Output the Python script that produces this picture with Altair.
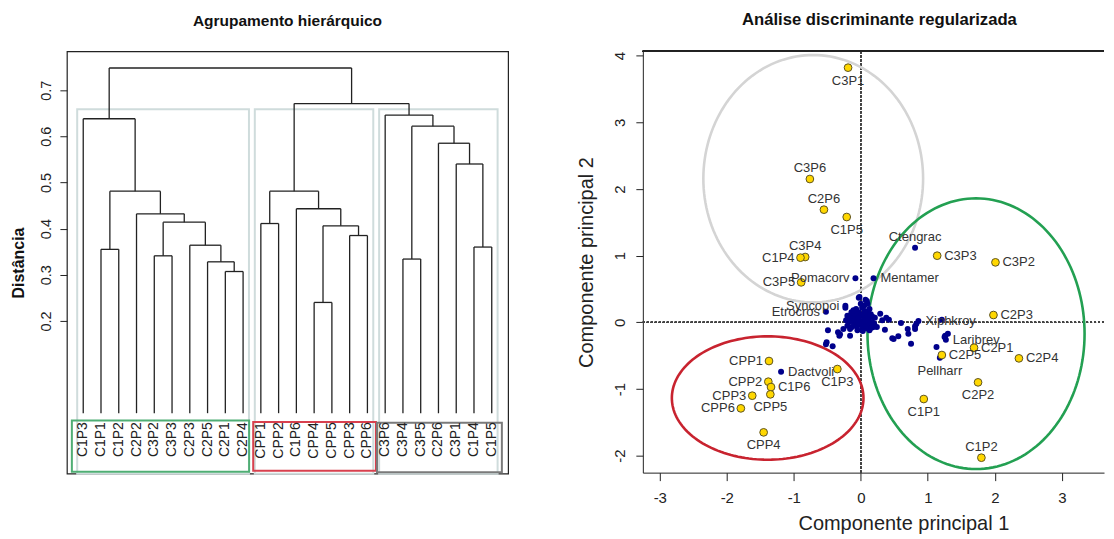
import altair as alt
import pandas as pd
import numpy as np

FONT = "Liberation Sans"
INK = "#222222"

# ---------------- Dendrogram (left) ----------------
leaf_order = ["C1P3", "C1P1", "C1P2", "C2P2", "C3P2", "C3P3", "C2P3", "C2P5", "C2P1", "C2P4",
              "CPP1", "CPP2", "C1P6", "CPP4", "CPP5", "CPP3", "CPP6",
              "C3P6", "C3P4", "C3P5", "C2P6", "C3P1", "C1P4", "C1P5"]
merge_left = ["C2P1", "C2P5", "C2P3", "C3P2", "m4", "C2P2", "C1P1", "m7", "C1P3",
              "CPP4", "CPP3", "m10", "C1P6", "CPP1", "m14",
              "C1P4", "C3P1", "C2P6", "C3P4", "m19", "C3P6", "m15", "m9"]
merge_right = ["C2P4", "m1", "m2", "C3P3", "m3", "m5", "C1P2", "m6", "m8",
               "CPP5", "CPP6", "m11", "m12", "CPP2", "m13",
               "C1P5", "m16", "m17", "C3P5", "m18", "m20", "m21", "m22"]
merge_height = [0.307, 0.328, 0.364, 0.341, 0.414, 0.432, 0.355, 0.481, 0.638,
                0.240, 0.385, 0.406, 0.443, 0.411, 0.481,
                0.360, 0.540, 0.585, 0.334, 0.622, 0.646, 0.671, 0.748]
cluster_sizes = [10, 7, 7]
label_box_x1 = [0.36, 10.57, 17.54]
label_box_x2 = [10.34, 17.48, 24.57]
label_box_y1 = [-0.016, -0.019, -0.021]
label_box_y2 = [-0.127, -0.125, -0.128]
label_box_color = ["#4fae74", "#d8404e", "#7a7a7a"]
dist_ticks = [0.2, 0.3, 0.4, 0.5, 0.6, 0.7]
DEN_X = [0.08, 24.92]
DEN_Y = [-0.131, 0.784]

# ---------------- RDA biplot (right) ----------------
site_names = ["C3P1", "C3P6", "C2P6", "C1P5", "C3P4", "C1P4", "C3P5", "C3P3", "C3P2",
              "C2P3", "C2P1", "C2P5", "C2P4", "C2P2", "C1P1", "C1P2",
              "CPP1", "CPP2", "C1P6", "CPP3", "CPP5", "CPP6", "CPP4", "C1P3"]
site_x = [-0.19, -0.76, -0.55, -0.21, -0.83, -0.90, -0.89, 1.14, 2.01,
          1.98, 1.69, 1.21, 2.36, 1.75, 0.94, 1.80,
          -1.37, -1.38, -1.34, -1.62, -1.35, -1.79, -1.45, -0.35]
site_y = [3.82, 2.15, 1.69, 1.58, 0.98, 0.97, 0.60, 1.00, 0.90,
          0.11, -0.38, -0.49, -0.54, -0.90, -1.15, -2.03,
          -0.58, -0.89, -0.97, -1.10, -1.08, -1.29, -1.65, -0.70]
site_pos = ["below", "above", "above", "below", "above", "left", "left", "right", "right",
            "right", "right", "right", "right", "below", "below", "above",
            "left", "left", "right", "left", "below", "left", "below", "below"]

sp_names = ["Ctengrac", "Pomacorv", "Mentamer", "Xiphkroy", "Laribrev", "Pellharr",
            "Dactvoli", "Syncopoi", "Etrocros"]
sp_x = [0.81, -0.08, 0.19, 0.86, 1.27, 1.18, -1.19, -0.23, -0.52]
sp_y = [1.12, 0.66, 0.66, 0.02, -0.26, -0.53, -0.74, 0.25, 0.16]
sp_pos = ["above", "left", "right", "right", "right", "below", "right", "left", "left"]

other_x = [-0.02, 0.07, 0.10, -0.03, 0.09, -0.23, -0.03, 0.11,
           -0.12, -0.08, -0.05, 0.00, 0.03, 0.06, 0.09, 0.12, -0.10, -0.06, -0.02, 0.02,
           0.05, 0.14, -0.15, 0.00, 0.04, -0.09, 0.08, -0.03, 0.10, 0.15, -0.13, 0.17,
           -0.20, -0.18, -0.20, -0.14, -0.07, 0.02, 0.13, 0.18, 0.20, 0.13, 0.03, -0.05,
           -0.16, -0.22, 0.06, -0.11, 0.16, 0.11, -0.04, 0.07, -0.17, 0.00, 0.05,
           0.29, 0.32, 0.38, 0.42, 0.21, 0.19, 0.24, 0.36,
           0.60, 0.71, 0.70, 0.49, 0.56, 0.47, 0.75,
           0.83, 0.81, 0.81, 1.21, 1.26, 1.30, 1.25, 1.13,
           -0.49, -0.34, -0.31, -0.32, -0.51, -0.52, -0.42, -0.16, -0.26]
other_y = [0.38, 0.34, 0.28, 0.37, 0.32, 0.22, 0.15, 0.15,
           0.08, 0.12, 0.05, 0.10, 0.02, 0.08, -0.02, 0.05, -0.02, -0.06, -0.03, -0.08,
           -0.05, -0.04, 0.02, 0.00, 0.12, 0.04, -0.09, 0.06, 0.10, 0.12, -0.07, 0.00,
           0.10, 0.00, -0.05, 0.15, 0.20, 0.22, 0.20, 0.08, -0.02, -0.12, -0.13, -0.12,
           -0.10, 0.03, 0.17, 0.18, -0.08, 0.00, 0.00, 0.03, 0.07, 0.28, 0.25,
           0.13, 0.03, 0.07, 0.04, 0.07, -0.07, -0.07, -0.11,
           -0.01, -0.17, -0.10, -0.25, -0.21, -0.24, -0.32,
           -0.02, -0.06, -0.10, 0.04, -0.20, -0.17, -0.22, -0.37,
           -0.12, -0.15, -0.18, -0.20, -0.30, -0.33, -0.36, -0.20, -0.10]

ell_names = ["g1", "g2", "g3"]
ell_cx = [-0.71, 1.72, -1.39]
ell_cy = [2.155, -0.17, -1.135]
ell_rx = [1.64, 1.62, 1.43]
ell_ry = [1.855, 2.03, 0.925]
ell_color = ["#d4d4d4", "#23a052", "#c8232f"]

RDA_X = [-3.253, 3.63]
RDA_Y = [-2.254, 4.064]
x_ticks = [-3, -2, -1, 0, 1, 2, 3]
y_ticks = [-2, -1, 0, 1, 2, 3, 4]

# ---------------- build dendrogram tables ----------------
pos = {name: (i + 1.0, 0.0) for i, name in enumerate(leaf_order)}
segs = []
for i, (l, r, h) in enumerate(zip(merge_left, merge_right, merge_height)):
    xl, hl = pos[l]
    xr, hr = pos[r]
    segs.append(dict(x=xl, x2=xl, y=hl, y2=h))
    segs.append(dict(x=xl, x2=xr, y=h, y2=h))
    segs.append(dict(x=xr, x2=xr, y=hr, y2=h))
    pos["m%d" % (i + 1)] = ((xl + xr) / 2.0, h)
seg_df = pd.DataFrame(segs)

hs = sorted(merge_height)
k = len(cluster_sizes)
cut_h = (hs[-k] + hs[-k + 1]) / 2.0
bounds = np.concatenate([[0], np.cumsum(cluster_sizes)])
crect_df = pd.DataFrame({
    "x": bounds[:-1] + 0.66, "x2": bounds[1:] + 0.33,
    "y": [DEN_Y[0]] * k, "y2": [cut_h] * k})

lbox_df = pd.DataFrame({"x": label_box_x1, "x2": label_box_x2,
                        "y": label_box_y1, "y2": label_box_y2,
                        "c": ["a", "b", "c"]})
leaf_df = pd.DataFrame({"name": leaf_order,
                        "x": np.arange(1, len(leaf_order) + 1),
                        "y": [0.0] * len(leaf_order)})

den_yaxis = alt.Axis(values=dist_ticks, format=".1f", title="Distância", domain=False,
                     tickSize=7, tickColor=INK, tickWidth=1, grid=False,
                     labelAngle=270, labelAlign="center", labelBaseline="bottom",
                     labelPadding=6, labelFontSize=14.5, labelColor=INK,
                     titleFontSize=16, titleFontWeight="bold", titleColor="#111",
                     titlePadding=12)


def dx_(f="x"):
    return alt.X(f + ":Q", scale=alt.Scale(domain=DEN_X, nice=False, zero=False), axis=None)


def dy_(f="y"):
    return alt.Y(f + ":Q", scale=alt.Scale(domain=DEN_Y, nice=False, zero=False), axis=den_yaxis)


crect = alt.Chart(crect_df).mark_rect(fillOpacity=0, stroke="#cfdcdc", strokeWidth=2).encode(
    x=dx_(), x2="x2", y=dy_(), y2="y2")
dend = alt.Chart(seg_df).mark_rule(color=INK, strokeWidth=1.3).encode(
    x=dx_(), x2="x2", y=dy_(), y2="y2")
lbox = alt.Chart(lbox_df).mark_rect(fillOpacity=0, strokeWidth=2).encode(
    x=dx_(), x2="x2", y=dy_(), y2="y2",
    stroke=alt.Stroke("c:N", scale=alt.Scale(domain=["a", "b", "c"], range=label_box_color), legend=None))
leaf_txt = alt.Chart(leaf_df).mark_text(angle=270, align="right", baseline="middle", dx=-9,
                                         fontSize=14, color=INK, font=FONT).encode(
    x=dx_(), y=dy_(), text="name:N")

left = alt.layer(crect, dend, lbox, leaf_txt).properties(
    width=442, height=423,
    title=alt.TitleParams("Agrupamento hierárquico", fontSize=15.5, fontWeight="bold",
                          color="#111", offset=22, font=FONT),
    view=alt.ViewBackground(stroke=INK, strokeWidth=1.2))

# ---------------- build biplot tables ----------------
ell_rows = []
tt = np.linspace(0, 2 * np.pi, 161)
for n, cx, cy, rx, ry in zip(ell_names, ell_cx, ell_cy, ell_rx, ell_ry):
    for i, t in enumerate(tt):
        ell_rows.append(dict(e=n, i=i, x=cx + rx * np.cos(t), y=cy + ry * np.sin(t)))
ell_df = pd.DataFrame(ell_rows)

site_df = pd.DataFrame({"name": site_names, "x": site_x, "y": site_y, "pos": site_pos})
sp_df = pd.DataFrame({"name": sp_names, "x": sp_x, "y": sp_y, "pos": sp_pos})
oth_df = pd.DataFrame({"x": other_x, "y": other_y})
blue_df = pd.concat([oth_df, sp_df[["x", "y"]]], ignore_index=True)
lab_df = pd.concat([site_df, sp_df], ignore_index=True)

rx_axis = alt.Axis(values=x_ticks, labelExpr="'' + datum.value",
                   title="Componente principal 1", domain=True, domainColor=INK,
                   tickSize=8, tickColor=INK, grid=False, labelFontSize=15, labelColor=INK,
                   labelPadding=10, titleFontSize=20, titleFontWeight="normal", titleColor=INK,
                   titlePadding=8, titleX=261, labelFlush=False)
ry_axis = alt.Axis(values=y_ticks, labelExpr="'' + datum.value",
                   title="Componente principal 2", domain=True, domainColor=INK,
                   tickSize=7, tickColor=INK, grid=False, labelFontSize=15, labelColor=INK,
                   labelAngle=270, labelAlign="center", labelBaseline="bottom", labelPadding=8,
                   titleFontSize=20, titleFontWeight="normal", titleColor=INK, titlePadding=16,
                   labelFlush=False)


def rx_():
    return alt.X("x:Q", scale=alt.Scale(domain=RDA_X, nice=False, zero=False), axis=rx_axis)


def ry_():
    return alt.Y("y:Q", scale=alt.Scale(domain=RDA_Y, nice=False, zero=False), axis=ry_axis)


vline = alt.Chart(site_df).mark_rule(color="#444", strokeDash=[2, 2], strokeWidth=1).encode(x=alt.datum(0))
hline = alt.Chart(site_df).mark_rule(color="#444", strokeDash=[2, 2], strokeWidth=1).encode(y=alt.datum(0))
topline = alt.Chart(site_df).mark_rule(color=INK, strokeWidth=1.2).encode(y=alt.value(0))
ell = alt.Chart(ell_df).mark_line(strokeWidth=2.6, clip=True).encode(
    x=rx_(), y=ry_(), order="i:Q", detail="e:N",
    color=alt.Color("e:N", scale=alt.Scale(domain=ell_names, range=ell_color), legend=None))
blue = alt.Chart(blue_df).mark_circle(size=36, color="#00008b", opacity=1).encode(x=rx_(), y=ry_())
sites = alt.Chart(site_df).mark_circle(size=60, color="#ffd700", stroke="#5e5320",
                                       strokeWidth=1, opacity=1).encode(x=rx_(), y=ry_())

offsets = {"below": dict(align="center", baseline="middle", dy=13),
           "above": dict(align="center", baseline="middle", dy=-11),
           "left": dict(align="right", baseline="middle", dx=-6),
           "right": dict(align="left", baseline="middle", dx=7)}
texts = []
for p, kw in offsets.items():
    texts.append(alt.Chart(lab_df).transform_filter(alt.datum.pos == p).mark_text(
        fontSize=13, color="#333", font=FONT, **kw).encode(x=rx_(), y=ry_(), text="name:N"))

right = alt.layer(vline, hline, topline, ell, blue, sites, *texts).properties(
    width=462, height=422,
    title=alt.TitleParams("Análise discriminante regularizada", fontSize=16.7, fontWeight="bold",
                          color="#111", offset=22, dx=6, font=FONT),
    view=alt.ViewBackground(stroke="transparent"))

chart = alt.HConcatChart(hconcat=[left, right], spacing=135, bounds="flush",
                         padding={"left": 2, "top": 3, "right": 0, "bottom": 0}).configure(
    font=FONT, background="white")

chart.save("out.html", embed_options={"renderer": "svg", "actions": False})
